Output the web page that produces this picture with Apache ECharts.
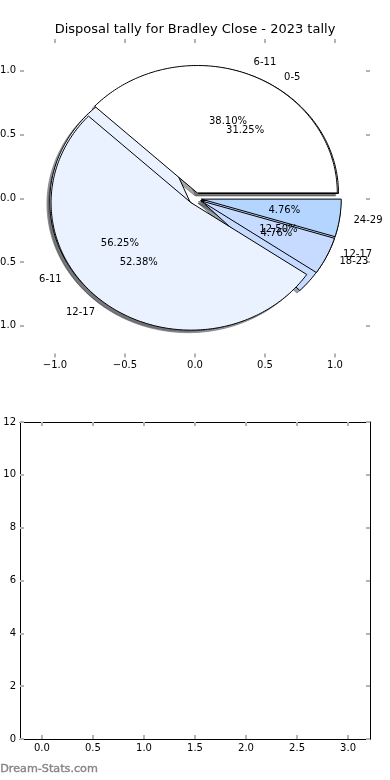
<!DOCTYPE html>
<html>
<head>
<meta charset="utf-8">
<script src="https://cdn.jsdelivr.net/npm/echarts@6/dist/echarts.min.js"></script>
<style>
html,body{margin:0;padding:0;background:#fff;}
#chart{width:390px;height:780px;}
</style>
</head>
<body>
<div id="chart"></div>
<script>
// ---- data ----
const titleText = 'Disposal tally for Bradley Close - 2023 tally';
// first pie (drawn underneath)
const pieALabels = ['0-5', '6-11', '12-17'];
const pieAValues = [5, 9, 2];
// second pie (drawn on top)
const pieBLabels = ['6-11', '12-17', '18-23', '24-29'];
const pieBValues = [8, 11, 1, 1];
const explodeA = [0.045, 0.045, 0.045];
const explodeB = [0.045, 0.045, 0.045, 0.045];
const sliceColors = ['#ffffff', '#ebf2ff', '#c6dbff', '#b3d5ff'];
const pieTicks = [-1, -0.5, 0, 0.5, 1];
const bottomXTicks = [0, 0.5, 1, 1.5, 2, 2.5, 3];
const bottomYMin = 0, bottomYMax = 12, bottomYStep = 2;

// ---- helpers ----
const FONT = '"DejaVu Sans", sans-serif';
function fmt1(v) { return (v < 0 ? '\u2212' : '') + Math.abs(v).toFixed(1); }
function hexToRgb(h) { return [parseInt(h.substr(1,2),16), parseInt(h.substr(3,2),16), parseInt(h.substr(5,2),16)]; }
function buildWedges(labels, values, explode, pie) {
  const total = values.reduce((a, b) => a + b, 0);
  let t = 0;
  return values.map((v, i) => {
    const t1 = t, t2 = t + 360 * v / total; t = t2;
    const mid = (t1 + t2) / 2 * Math.PI / 180;
    return {pie, label: labels[i], frac: v / total, t1, t2, mid,
      cx: explode[i] * Math.cos(mid), cy: explode[i] * Math.sin(mid), color: sliceColors[i]};
  });
}
const wedges = buildWedges(pieALabels, pieAValues, explodeA, 0)
  .concat(buildWedges(pieBLabels, pieBValues, explodeB, 1));

function wedgePoints(api, w, ox, oy) {
  const pts = [api.coord([w.cx + ox, w.cy + oy])];
  const n = Math.max(2, Math.ceil(w.t2 - w.t1));
  for (let k = 0; k <= n; k++) {
    const a = (w.t1 + (w.t2 - w.t1) * k / n) * Math.PI / 180;
    pts.push(api.coord([w.cx + ox + Math.cos(a), w.cy + oy + Math.sin(a)]));
  }
  return pts;
}

const tickStyle = {color: '#b4b4b4', width: 2};
const labelStyle = {color: '#000', fontSize: 10, fontFamily: FONT};
const hiddenLine = {show: true, onZero: false, lineStyle: {color: 'rgba(0,0,0,0)', width: 1}};

const chart = echarts.init(document.getElementById('chart'), null, {renderer: 'canvas'});
const option = {
  animation: false,
  backgroundColor: '#fff',
  title: {
    text: titleText, left: 'center', top: 23, padding: 0,
    textStyle: {fontSize: 13, fontWeight: 'normal', color: '#000', fontFamily: FONT}
  },
  grid: [
    {left: 20, right: 20, top: 39, bottom: 422.5, outerBoundsMode: 'none', containLabel: false},
    {left: 20, right: 20, top: 422, bottom: 41, outerBoundsMode: 'none', containLabel: false}
  ],
  xAxis: [
    {gridIndex: 0, type: 'value', position: 'bottom', min: -1.25, max: 1.25,
      axisLine: hiddenLine, splitLine: {show: false},
      axisTick: {show: true, inside: true, length: 4, customValues: pieTicks, lineStyle: tickStyle},
      axisLabel: Object.assign({customValues: pieTicks, formatter: fmt1, margin: 3}, labelStyle)},
    {gridIndex: 0, type: 'value', position: 'top', min: -1.25, max: 1.25,
      axisLine: hiddenLine, splitLine: {show: false},
      axisTick: {show: true, inside: true, length: 4, customValues: pieTicks, lineStyle: tickStyle},
      axisLabel: {show: false}},
    {gridIndex: 1, type: 'value', position: 'bottom', min: -0.215, max: 3.215,
      axisLine: {show: true, onZero: false, lineStyle: {color: '#000', width: 1}}, splitLine: {show: false},
      axisTick: {show: true, inside: true, length: 4, customValues: bottomXTicks, lineStyle: tickStyle},
      axisLabel: Object.assign({customValues: bottomXTicks, formatter: fmt1, margin: 4}, labelStyle)},
    {gridIndex: 1, type: 'value', position: 'top', min: -0.215, max: 3.215,
      axisLine: {show: true, onZero: false, lineStyle: {color: '#000', width: 1}}, splitLine: {show: false},
      axisTick: {show: true, inside: true, length: 4, customValues: bottomXTicks, lineStyle: tickStyle},
      axisLabel: {show: false}}
  ],
  yAxis: [
    {gridIndex: 0, type: 'value', position: 'left', min: -1.25, max: 1.25,
      axisLine: hiddenLine, splitLine: {show: false},
      axisTick: {show: true, inside: true, length: 4, customValues: pieTicks, lineStyle: tickStyle},
      axisLabel: Object.assign({customValues: pieTicks, formatter: fmt1, margin: 4}, labelStyle)},
    {gridIndex: 0, type: 'value', position: 'right', min: -1.25, max: 1.25,
      axisLine: hiddenLine, splitLine: {show: false},
      axisTick: {show: true, inside: true, length: 4, customValues: pieTicks, lineStyle: tickStyle},
      axisLabel: {show: false}},
    {gridIndex: 1, type: 'value', position: 'left', min: bottomYMin, max: bottomYMax, interval: bottomYStep,
      axisLine: {show: true, onZero: false, lineStyle: {color: '#000', width: 1}}, splitLine: {show: false},
      axisTick: {show: true, inside: true, length: 4, lineStyle: tickStyle},
      axisLabel: Object.assign({margin: 4}, labelStyle)},
    {gridIndex: 1, type: 'value', position: 'right', min: bottomYMin, max: bottomYMax, interval: bottomYStep,
      axisLine: {show: true, onZero: false, lineStyle: {color: '#000', width: 1}}, splitLine: {show: false},
      axisTick: {show: true, inside: true, length: 4, lineStyle: tickStyle},
      axisLabel: {show: false}}
  ],
  series: [
    { // shadows
      type: 'custom', xAxisIndex: 0, yAxisIndex: 0, z: 1, clip: false, silent: true,
      data: wedges.map((w, i) => [0, 0, i]),
      renderItem: function (params, api) {
        const w = wedges[api.value(2)];
        const c = hexToRgb(w.color).map(v => Math.round(v * 0.3));
        const col = 'rgba(' + c[0] + ',' + c[1] + ',' + c[2] + ',0.5)';
        return {type: 'polygon', shape: {points: wedgePoints(api, w, -0.02, -0.02)},
          style: {fill: col, stroke: col, lineWidth: 1}};
      }
    },
    { // wedges
      type: 'custom', xAxisIndex: 0, yAxisIndex: 0, z: 2, clip: false, silent: true,
      data: wedges.map((w, i) => [0, 0, i]),
      renderItem: function (params, api) {
        const w = wedges[api.value(2)];
        return {type: 'polygon', shape: {points: wedgePoints(api, w, 0, 0)},
          style: {fill: w.color, stroke: '#000', lineWidth: 1, lineJoin: 'miter'}};
      }
    },
    { // labels
      type: 'custom', xAxisIndex: 0, yAxisIndex: 0, z: 3, clip: false, silent: true,
      data: wedges.map((w, i) => [0, 0, i]),
      renderItem: function (params, api) {
        const w = wedges[api.value(2)];
        const lx = w.cx + 1.1 * Math.cos(w.mid), ly = w.cy + 1.1 * Math.sin(w.mid);
        const px = w.cx + 0.6 * Math.cos(w.mid), py = w.cy + 0.6 * Math.sin(w.mid);
        const lp = api.coord([lx, ly]), pp = api.coord([px, py]);
        return {type: 'group', children: [
          {type: 'text', x: lp[0], y: lp[1], style: {text: w.label, fill: '#000', font: '10px ' + FONT,
            align: lx > 0 ? 'left' : 'right', verticalAlign: 'middle'}},
          {type: 'text', x: pp[0], y: pp[1], style: {text: (w.frac * 100).toFixed(2) + '%', fill: '#000',
            font: '10px ' + FONT, align: 'center', verticalAlign: 'middle'}}
        ]};
      }
    }
  ],
  graphic: [
    {type: 'text', left: 0, top: 763, silent: true,
      style: {text: 'Dream-Stats.com', fill: '#858585', stroke: '#858585', lineWidth: 0.4,
        font: '11.2px ' + FONT}}
  ]
};
chart.setOption(option);
</script>
</body>
</html>
